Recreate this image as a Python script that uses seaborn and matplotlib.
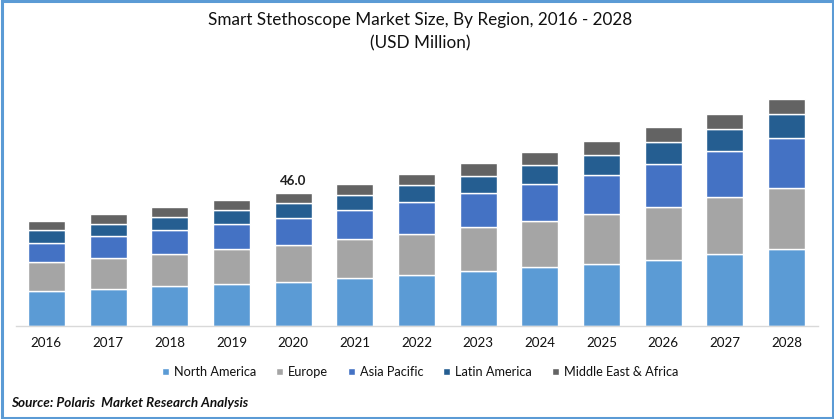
import numpy as np
import pandas as pd
import seaborn as sns
from matplotlib import pyplot as plt
from matplotlib.patches import Rectangle

years = ['2016', '2017', '2018', '2019', '2020', '2021', '2022', '2023', '2024', '2025', '2026', '2027', '2028']
north_america = [11.8, 12.5, 13.5, 14.2, 15.2, 16.3, 17.3, 18.7, 20.1, 21.4, 22.8, 24.6, 26.3]
europe = [10.0, 10.7, 11.1, 12.1, 12.8, 13.5, 14.2, 15.2, 15.9, 17.0, 18.3, 19.7, 21.1]
asia_pacific = [6.9, 7.6, 8.3, 8.7, 9.3, 10.0, 11.1, 11.8, 12.8, 13.8, 14.9, 15.9, 17.3]
latin_america = [4.2, 4.2, 4.5, 4.8, 5.2, 5.5, 5.9, 5.9, 6.6, 6.9, 7.3, 7.6, 8.3]
middle_east = [3.1, 3.5, 3.5, 3.5, 3.5, 3.8, 3.8, 4.5, 4.5, 4.8, 5.2, 5.5, 5.5]

regions = ['North America', 'Europe', 'Asia Pacific', 'Latin America', 'Middle East & Africa']
colors = ['#5B9BD5', '#A5A5A5', '#4472C4', '#255E91', '#636363']
labels_top = ['', '', '', '', '46.0', '', '', '', '', '', '', '', '']

df = pd.DataFrame(dict(zip(regions, [north_america, europe, asia_pacific, latin_america, middle_east])), index=years)

sns.set_theme(style='white')
plt.rcParams['font.family'] = ['Lato', 'DejaVu Sans']

W, H = 834, 419
fig = plt.figure(figsize=(W / 100, H / 100), dpi=100)
ax = fig.add_axes([15.5 / W, (H - 325.5) / H, 802 / W, 260 / H])

# stacked bars, one barplot call per region
bottom = np.zeros(len(years))
for region, color in zip(regions, colors):
    sns.barplot(x=years, y=df[region].values, bottom=bottom, color=color, saturation=1,
                width=0.6, label=region, ax=ax, legend=False)
    bottom = bottom + df[region].values

ax.bar_label(ax.containers[-1], labels=labels_top, padding=4, fontsize=9.6, fontweight='bold', color='#222222')

ax.set_xlim(-0.5, 12.5)
ax.set_ylim(0, 260 / 2.891)
ax.set_yticks([])
ax.set_ylabel('')
sns.despine(ax=ax, left=True)
ax.spines['bottom'].set_color('#D9D9D9')
ax.spines['bottom'].set_linewidth(1)
ax.tick_params(axis='x', length=0, pad=8, labelsize=9.6, labelcolor='#111111')

fig.text(420 / W, 1 - 20 / H, 'Smart Stethoscope Market Size, By Region, 2016 - 2028', ha='center', va='center',
         fontsize=12.3, color='#111111')
fig.text(420 / W, 1 - 43 / H, '(USD Million)', ha='center', va='center', fontsize=12.3, color='#111111')

handles, names = ax.get_legend_handles_labels()
fig.legend(handles, names, ncol=5, loc='center', bbox_to_anchor=(420 / W, 1 - 372 / H), frameon=False,
           fontsize=9.2, handlelength=0.54, handleheight=0.54, handletextpad=0.4, columnspacing=1.55,
           labelcolor='#111111')

fig.text(11 / W, 1 - 403 / H, 'Source: Polaris  Market Research Analysis', ha='left', va='center',
         fontsize=9.75, fontweight='bold', fontstyle='italic', color='#111111')

# blue frame around the picture
fig.add_artist(Rectangle((1.5 / W, 1.5 / H), (W - 3) / W, (H - 3) / H, transform=fig.transFigure,
                         fill=False, edgecolor='#5B9BD5', linewidth=2.2))

fig.savefig('out.png', dpi=100)
